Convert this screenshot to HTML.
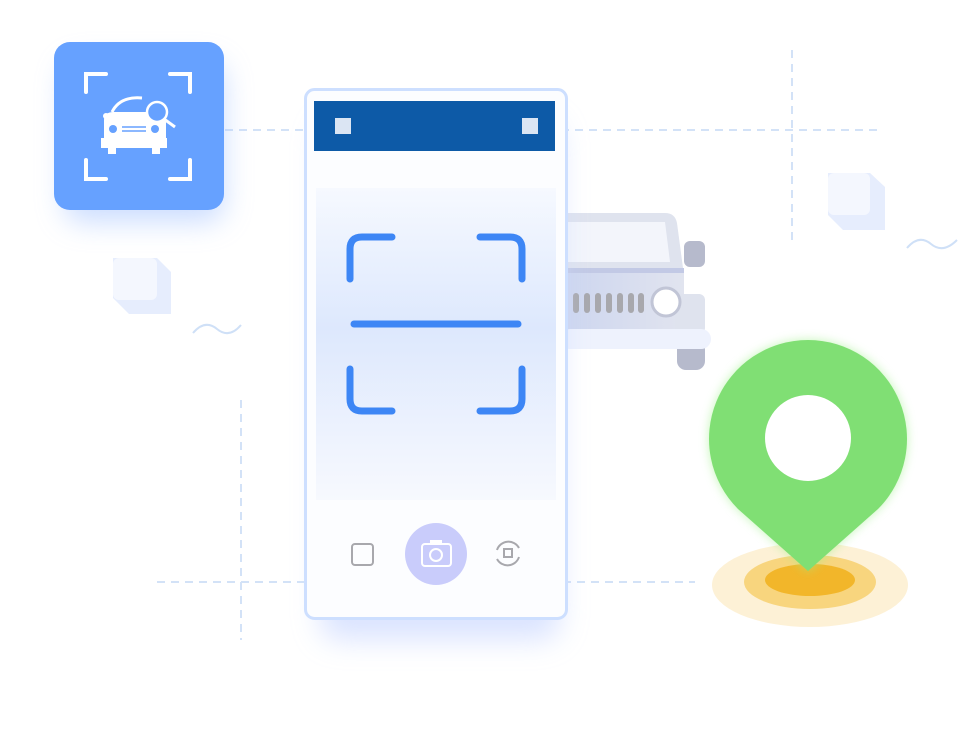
<!DOCTYPE html>
<html><head><style>body{margin:0;background:#fff}svg{display:block}</style></head><body>
<svg width="960" height="730" viewBox="0 0 960 730" xmlns="http://www.w3.org/2000/svg">
<defs>
<linearGradient id="scan" x1="0" y1="0" x2="0" y2="1"><stop offset="0" stop-color="#f6f9ff"/><stop offset="0.45" stop-color="#dde8fd"/><stop offset="1" stop-color="#f7f9fe"/></linearGradient>
<linearGradient id="carg" x1="0" y1="0" x2="1" y2="0"><stop offset="0" stop-color="#ccd5ef"/><stop offset="1" stop-color="#e1e4ef"/></linearGradient>
<filter id="sh" x="-40%" y="-40%" width="180%" height="180%"><feGaussianBlur stdDeviation="14"/></filter>
<filter id="gl" x="-40%" y="-40%" width="180%" height="180%"><feGaussianBlur stdDeviation="5"/></filter>
</defs>
<g stroke="#d3e2f7" stroke-width="2" stroke-dasharray="8 6" fill="none">
<line x1="225" y1="130" x2="880" y2="130"/><line x1="792" y1="50" x2="792" y2="240"/>
<line x1="241" y1="400" x2="241" y2="640"/><line x1="157" y1="582" x2="695" y2="582"/>
</g>
<path d="M193 333 q12 -14 24 -4 t24 -4" stroke="#cfe0f7" stroke-width="2" fill="none"/>
<path d="M907 248 q12 -14 24 -4 t26 -4" stroke="#cfe0f7" stroke-width="2" fill="none"/>
<g><path d="M113 258 h44 l14 14 v42 h-42 l-16 -16z" fill="#e6edfd"/><rect x="113" y="258" width="44" height="42" rx="6" fill="#f4f7fe"/></g>
<g><path d="M828 173 h42 l15 14 v43 h-42 l-15 -15z" fill="#e6edfd"/><rect x="828" y="173" width="42" height="42" rx="6" fill="#f4f7fe"/></g>
<rect x="64" y="62" width="160" height="160" rx="18" fill="#a9c6ff" filter="url(#sh)" opacity="0.6"/>
<rect x="54" y="42" width="170" height="168" rx="16" fill="#66a1ff"/>
<g stroke="#fff" stroke-width="4" fill="none" stroke-linecap="round">
<path d="M86 92 v-18 h20"/><path d="M170 74 h20 v18"/><path d="M86 160 v19 h20"/><path d="M170 179 h20 v-19"/>
</g>
<g fill="#fff"><path d="M101 138 h66 v10 h-66z"/><path d="M104 120 q0 -8 10 -8 h42 q10 0 10 8 v20 h-62z"/><rect x="108" y="144" width="8" height="10"/><rect x="152" y="144" width="8" height="10"/><circle cx="106" cy="116" r="3"/></g>
<path d="M112 112 q8 -16 30 -14" stroke="#fff" stroke-width="3" fill="none"/>
<circle cx="113" cy="129" r="4" fill="#66a1ff"/><circle cx="155" cy="129" r="4" fill="#66a1ff"/>
<g stroke="#66a1ff" stroke-width="1.5"><line x1="122" y1="127" x2="146" y2="127"/><line x1="122" y1="131" x2="146" y2="131"/></g>
<circle cx="157" cy="112" r="10" fill="#66a1ff" stroke="#fff" stroke-width="2.5"/><line x1="164" y1="119" x2="175" y2="127" stroke="#fff" stroke-width="3"/>
<!-- car -->
<path d="M560 213 h105 q10 0 12 10 l6 45 h-123z" fill="#dfe3ee"/>
<path d="M560 222 h105 l5 40 h-110z" fill="#f3f5fb"/>
<rect x="684" y="241" width="21" height="26" rx="6" fill="#b6bacc"/>
<rect x="560" y="268" width="124" height="70" fill="url(#carg)"/>
<rect x="560" y="268" width="124" height="5" fill="#c2c9e5"/>
<rect x="675" y="294" width="30" height="40" rx="6" fill="#dfe3ee"/>
<g fill="#a8a8ad"><rect x="573" y="293" width="6" height="20" rx="3"/><rect x="584" y="293" width="6" height="20" rx="3"/><rect x="595" y="293" width="6" height="20" rx="3"/><rect x="606" y="293" width="6" height="20" rx="3"/><rect x="617" y="293" width="6" height="20" rx="3"/><rect x="628" y="293" width="6" height="20" rx="3"/><rect x="638" y="293" width="6" height="20" rx="3"/></g>
<circle cx="666" cy="302" r="14" fill="#fff" stroke="#c1c5d6" stroke-width="3"/>
<rect x="677" y="340" width="28" height="30" rx="9" fill="#b6bacc"/>
<rect x="560" y="329" width="151" height="20" rx="10" fill="#eef2fd"/>
<!-- phone -->
<rect x="320" y="120" width="240" height="520" rx="20" fill="#cbd8ff" filter="url(#sh)" opacity="0.7"/>
<rect x="305.5" y="89.5" width="261" height="529" rx="9" fill="#fcfdff" stroke="#cddfff" stroke-width="3"/>
<rect x="314" y="101" width="241" height="50" fill="#0d5aa7"/>
<rect x="335" y="118" width="16" height="16" fill="#dbe5f3"/><rect x="522" y="118" width="16" height="16" fill="#dbe5f3"/>
<rect x="316" y="188" width="240" height="312" fill="url(#scan)"/>
<g stroke="#8fb3ff" stroke-width="8" fill="none" filter="url(#gl)" opacity="0.7">
<line x1="354" y1="328" x2="518" y2="328"/></g>
<g stroke="#3d86f5" stroke-width="7" fill="none" stroke-linecap="round">
<path d="M350 279 v-30 q0 -12 12 -12 h30"/><path d="M480 237 h30 q12 0 12 12 v30"/>
<path d="M350 369 v30 q0 12 12 12 h30"/><path d="M480 411 h30 q12 0 12 -12 v-30"/>
<line x1="354" y1="324" x2="518" y2="324"/></g>
<rect x="352" y="544" width="21" height="21" rx="3" fill="none" stroke="#a8a8ad" stroke-width="2"/>
<circle cx="436" cy="554" r="31" fill="#c9ccfb"/>
<rect x="422" y="544" width="29" height="22" rx="3" fill="none" stroke="#fff" stroke-width="2"/><rect x="430" y="540" width="12" height="5" fill="#fff"/>
<circle cx="436" cy="555" r="6" fill="none" stroke="#fff" stroke-width="2"/>
<path d="M497 550 a12 12 0 0 1 22 -2 M519 557 a12 12 0 0 1 -22 2" stroke="#a8a8ad" stroke-width="2" fill="none"/>
<rect x="504" y="549" width="8" height="8" fill="none" stroke="#a8a8ad" stroke-width="2"/>
<!-- pin -->
<ellipse cx="810" cy="585" rx="98" ry="42" fill="#fdf1d6"/>
<ellipse cx="810" cy="582" rx="66" ry="27" fill="#f8d57e"/>
<ellipse cx="810" cy="580" rx="45" ry="16" fill="#f2b62a"/>
<path d="M808 340 a99 99 0 0 1 70 169 l-70 62 l-70 -62 a99 99 0 0 1 70 -169z" fill="#9ef089" filter="url(#gl)" opacity="0.6"/>
<path d="M808 340 a99 99 0 0 1 70 169 l-70 62 l-70 -62 a99 99 0 0 1 70 -169z" fill="#80df74"/>
<circle cx="808" cy="438" r="43" fill="#fff"/>
</svg>
</body></html>
